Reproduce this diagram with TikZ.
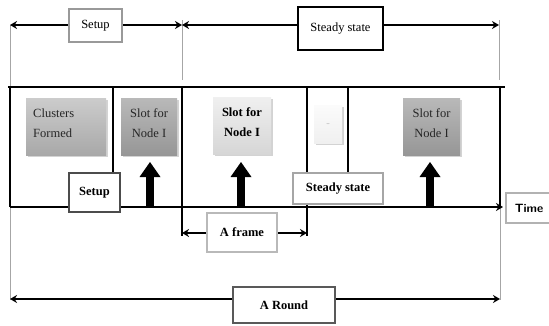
\documentclass[tikz,border=0pt]{standalone}
\usepackage{fontspec}
\setmainfont{Liberation Serif}
\usetikzlibrary{arrows.meta,shadows}
\begin{document}
\begin{tikzpicture}[x=1pt,y=-1pt,
  thickln/.style={line width=2.4pt},
  dimarrow/.style={line width=1.6pt,{Stealth[length=7pt,width=8pt]}-{Stealth[length=7pt,width=8pt]}},
  guide/.style={draw=gray!70,line width=0.5pt},
  labelbox/.style={draw,fill=white,line width=2pt,inner sep=0pt,font=\fontsize{12.5}{14}\selectfont},
  slotbox/.style={rectangle,inner sep=0pt,drop shadow={opacity=0.35,shadow xshift=1.5pt,shadow yshift=-1.5pt}},
  slottext/.style={inner sep=0pt,font=\fontsize{12.5}{20}\selectfont,align=center,text=black!85}
]
\useasboundingbox (0,0) rectangle (549,325);

% guide lines
\coordinate (g1t) at (10,25);  \coordinate (g1b) at (10,87);
\coordinate (g2t) at (182,20); \coordinate (g2b) at (182,80);
\coordinate (g3t) at (499,20); \coordinate (g3b) at (499,80);
\draw[guide] (g1t) -- (g1b);
\draw[guide] (g2t) -- (g2b);
\draw[guide] (g3t) -- (g3b);
\coordinate (r1t) at (10,207); \coordinate (r1b) at (10,300);
\coordinate (r2t) at (500,207); \coordinate (r2b) at (500,300);
\draw[guide] (r1t) -- (r1b);
\draw[guide] (r2t) -- (r2b);

% top dimension arrows
\coordinate (sL) at (10,25); \coordinate (sR) at (182,25); \coordinate (ssR) at (499,25);
\draw[dimarrow] (sL) -- (sR);
\draw[dimarrow] (sR) -- (ssR);
\node[labelbox,draw=gray!80,minimum width=53pt,minimum height=33pt] (setupTop) at (95.5,25.5) {Setup};
\node[labelbox,draw=black,minimum width=85pt,minimum height=43pt] (steadyTop) at (340.5,28.5) {Steady state};

% main box
\coordinate (tl) at (8,87); \coordinate (tr) at (505,87);
\coordinate (bl) at (10,207); \coordinate (br) at (500,207);
\coordinate (axisEnd) at (503,207);
\draw[thickln] (tl) -- (tr);
\draw[thickln] (10,87) -- (bl);
\draw[line width=1.8pt] (500,87) -- (br);
\draw[line width=1.8pt,-{Stealth[length=7pt,width=8pt]}] (bl) -- (axisEnd);

% dividers
\coordinate (d1t) at (113,87); \coordinate (d1b) at (113,173);
\coordinate (d2t) at (182,87); \coordinate (d2b) at (182,236);
\coordinate (d3t) at (307,87); \coordinate (d3b) at (307,236);
\coordinate (d4t) at (348,87); \coordinate (d4b) at (348,173);
\draw[line width=1.8pt] (d1t) -- (d1b);
\draw[line width=1.8pt] (d2t) -- (d2b);
\draw[line width=1.8pt] (d3t) -- (d3b);
\draw[line width=1.8pt] (d4t) -- (d4b);

% frame bracket
\coordinate (fL) at (182,233); \coordinate (fR) at (307,233);
\draw[dimarrow] (fL) -- (fR);
\node[labelbox,draw=gray!55,minimum width=70pt,minimum height=39pt] (frame) at (242,232.5) {\textbf{A frame}};

% round
\coordinate (rL) at (10,299); \coordinate (rR) at (500,299);
\draw[dimarrow] (rL) -- (rR);
\node[labelbox,draw=gray!70!black,minimum width=102pt,minimum height=36pt] (round) at (284,305) {\textbf{A Round}};

% inner boxes
\node[slotbox,top color=gray!40,bottom color=gray!68,minimum width=80pt,minimum height=57pt] (clusters) at (66,126.5) {};
\node[slottext,align=left,anchor=west] (clustersT) at (33,123.5) {Clusters\\Formed};
\node[slotbox,top color=gray!55,bottom color=gray!82,minimum width=56pt,minimum height=57pt] (slot1) at (149,126.5) {};
\node[slottext] (slot1T) at (149,123.5) {Slot for\\Node I};
\node[slotbox,top color=gray!12,bottom color=gray!32,minimum width=58pt,minimum height=57pt] (slot2) at (242,125.5) {};
\node[slottext,text=black] (slot2T) at (242,122.5) {\textbf{Slot for}\\\textbf{Node I}};
\node[slotbox,top color=gray!3,bottom color=gray!12,minimum width=28pt,minimum height=38pt] (dots) at (328,124) {};
\node[inner sep=0pt,text=gray,font=\scriptsize] (dotsT) at (328,124) {..};
\node[slotbox,top color=gray!55,bottom color=gray!82,minimum width=57pt,minimum height=57pt] (slot3) at (431.5,126.5) {};
\node[slottext] (slot3T) at (431.5,123.5) {Slot for\\Node I};

% up arrows
\foreach \n/\x in {a/150,b/241,c/430}{
  \coordinate (u\n b) at (\x,207);
  \coordinate (u\n t) at (\x,162);
  \fill (\x-4,207) rectangle (\x+4,176);
  \fill (\x-10.5,177) -- (u\n t) -- (\x+10.5,177) -- cycle;
}

% small labels
\node[labelbox,draw=gray!60!black,minimum width=51pt,minimum height=39pt] (setupLow) at (94.5,192.5) {\textbf{Setup}};
\node[labelbox,draw=gray!70,minimum width=90pt,minimum height=31pt] (steadyLow) at (338,188.5) {\textbf{Steady state}};
\node[labelbox,draw=gray!60,minimum width=46pt,minimum height=30pt,font=\sffamily\fontsize{12}{14}\selectfont,anchor=west] (time) at (505,208) {\textbf{Time}};
\end{tikzpicture}
\end{document}
